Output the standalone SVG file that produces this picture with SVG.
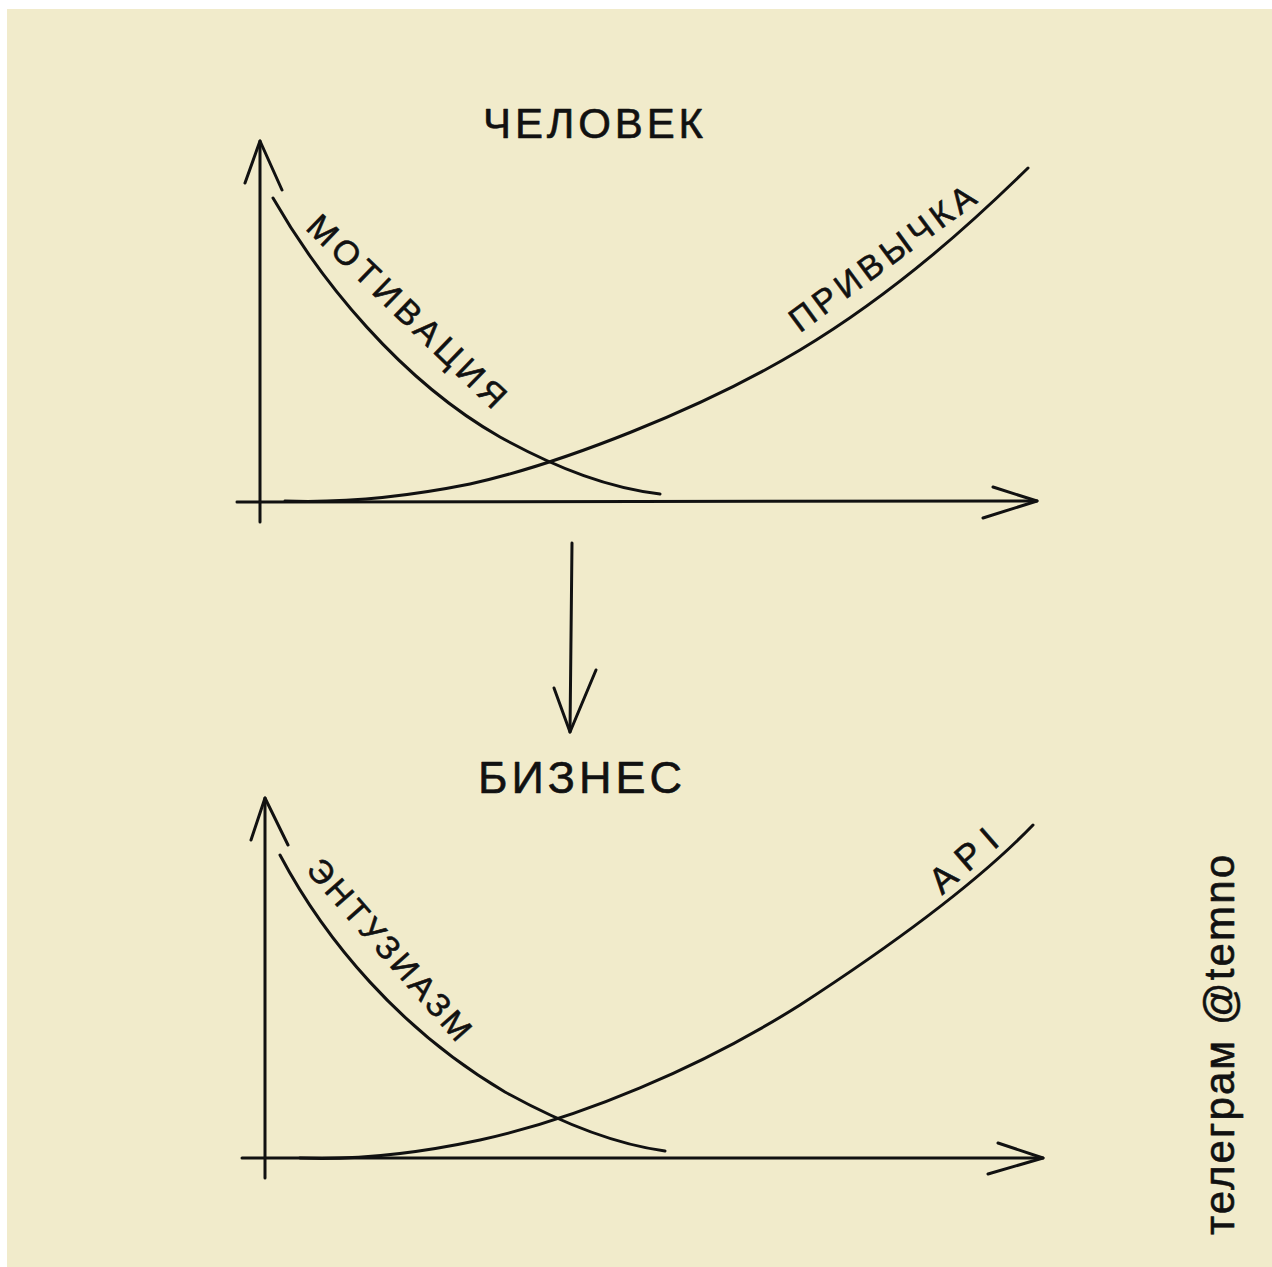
<svg xmlns="http://www.w3.org/2000/svg" width="1272" height="1267" viewBox="0 0 1272 1267">
<style>
.ln{fill:none;stroke:#111;stroke-width:3;stroke-linecap:round;stroke-linejoin:round}
.t{font-family:"Liberation Sans","DejaVu Sans",sans-serif;fill:#111;stroke:#111;stroke-width:0.6;stroke-linejoin:round}
</style>
<rect x="0" y="0" width="1272" height="1267" fill="#ffffff"/>
<rect x="7" y="9" width="1265" height="1258" fill="#f1ebcb"/>
<g id="top-chart">
  <g id="top-axes">
    <path class="ln" d="M260,141 L260,522"/>
    <path class="ln" d="M245,183 L260,141 L282,190"/>
    <path class="ln" d="M237,502 L1037,501"/>
    <path class="ln" d="M993,487 L1037,501 L983,518"/>
  </g>
  <g id="motivation">
    <path class="ln" d="M273,198 C320,280 400,380 500,437 C560,470 610,488 660,494"/>
    <text class="t" font-size="34" text-anchor="middle" textLength="262" lengthAdjust="spacing" transform="translate(407,311) rotate(44)" x="0" y="12">МОТИВАЦИЯ</text>
  </g>
  <g id="habit">
    <path class="ln" d="M285,501 C340,503 400,498 470,484 C560,464 700,410 800,350 C900,290 980,215 1028,168"/>
    <text class="t" font-size="34" text-anchor="middle" textLength="222" lengthAdjust="spacing" transform="translate(882,258) rotate(-36.3)" x="0" y="12">ПРИВЫЧКА</text>
  </g>
  <text id="title-top" class="t" font-size="42" x="483" y="138" textLength="220" lengthAdjust="spacing">ЧЕЛОВЕК</text>
</g>
<g id="connectors">
  <path class="ln" d="M572,543 L570,732"/>
  <path class="ln" d="M554,688 L570,732 L596,670"/>
</g>
<g id="bottom-chart">
  <g id="bottom-axes">
    <path class="ln" d="M265,798 L265,1178"/>
    <path class="ln" d="M251,840 L265,798 L288,845"/>
    <path class="ln" d="M242,1158 L1043,1158"/>
    <path class="ln" d="M998,1143 L1043,1158 L988,1174"/>
  </g>
  <g id="enthusiasm">
    <path class="ln" d="M280,855 C325,940 400,1030 505,1092 C570,1128 620,1145 665,1151"/>
    <text class="t" font-size="33" text-anchor="middle" textLength="230" lengthAdjust="spacing" transform="translate(390,949) rotate(48.7)" x="0" y="12">ЭНТУЗИАЗМ</text>
  </g>
  <g id="api">
    <path class="ln" d="M300,1158 C350,1160 410,1155 480,1140 C580,1118 700,1068 800,1005 C900,940 980,880 1033,825"/>
    <text class="t" font-size="36" text-anchor="middle" textLength="78" lengthAdjust="spacing" transform="translate(963,860) rotate(-41)" x="0" y="13">API</text>
  </g>
  <text id="title-bottom" class="t" font-size="45" x="478" y="793" textLength="204" lengthAdjust="spacing">БИЗНЕС</text>
</g>
<text id="credit" class="t" font-size="42" stroke-width="0.2" text-anchor="middle" textLength="380" lengthAdjust="spacing" transform="translate(1234,1045) rotate(-90)" x="0" y="0">телеграм @temno</text>
</svg>
